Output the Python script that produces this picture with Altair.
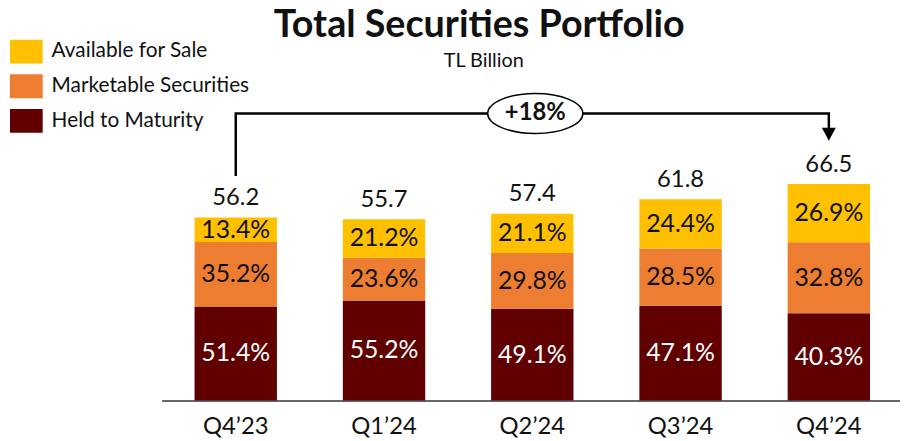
import altair as alt
import pandas as pd

quarters = ["Q4’23", "Q1’24", "Q2’24", "Q3’24", "Q4’24"]
totals = [56.2, 55.7, 57.4, 61.8, 66.5]
afs_pct = [13.4, 21.2, 21.1, 24.4, 26.9]
ms_pct = [35.2, 23.6, 29.8, 28.5, 32.8]
htm_pct = [51.4, 55.2, 49.1, 47.1, 40.3]
series = ["Available for Sale", "Marketable Securities", "Held to Maturity"]
colors = ["#FFC000", "#ED7D31", "#600000"]
title_text = "Total Securities Portfolio"
subtitle_text = "TL Billion"
growth_label = "+18%"
growth_from, growth_to = "Q4’23", "Q4’24"

FONT = "Lato"

# ---- build tables from the lists ----
rows = []
for i, q in enumerate(quarters):
    base = 0.0
    for name, pct in (("Held to Maturity", htm_pct[i]),
                      ("Marketable Securities", ms_pct[i]),
                      ("Available for Sale", afs_pct[i])):
        val = totals[i] * pct / 100.0
        rows.append({"quarter": q, "series": name, "y0": base, "y1": base + val,
                     "mid": base + val / 2, "label": f"{pct:.1f}%"})
        base += val
seg = pd.DataFrame(rows)
tot = pd.DataFrame({"quarter": quarters, "total": totals,
                    "label": [f"{t:.1f}" for t in totals]})

# bracket annotation (in data units of the y scale)
bracket = pd.DataFrame({
    "seq": [0, 1, 2, 3],
    "quarter": [growth_from, growth_from, growth_to, growth_to],
    "v": [69.4, 88.2, 88.2, 83.6],
})
arrow = pd.DataFrame({"quarter": [growth_to], "v": [81.8]})
badge = pd.DataFrame({"quarter": ["Q2’24"], "v": [88.2], "label": [growth_label]})
titles = pd.DataFrame({"t": [title_text], "s": [subtitle_text]})

xscale = alt.Scale(domain=quarters, range=[155, 903], paddingInner=0.4444, paddingOuter=0.2222)
yscale = alt.Scale(domain=[0, 118.2])

X = alt.X("quarter:N", scale=xscale, sort=quarters,
          axis=alt.Axis(title=None, ticks=False, tickSize=0, labelFont=FONT, labelFontSize=24,
                        labelColor="#111111", labelBaseline="alphabetic", labelPadding=33,
                        domainColor="#333333", domainWidth=1.5, labelAngle=0, grid=False))

rect_path = "M-1,-0.727L1,-0.727L1,0.727L-1,0.727Z"

bars = alt.Chart(seg).mark_bar().encode(
    x=X,
    y=alt.Y("y0:Q", scale=yscale, axis=None),
    y2="y1:Q",
    color=alt.Color("series:N", scale=alt.Scale(domain=series, range=colors),
                    legend=alt.Legend(orient="none", legendX=2, legendY=19.5, title=None,
                                      symbolType=rect_path, symbolSize=1089, symbolStrokeWidth=0,
                                      labelFont=FONT, labelFontSize=21, labelColor="#111111",
                                      labelLimit=0, labelOffset=9, rowPadding=6, padding=0)),
)

pct_text = alt.Chart(seg).mark_text(font=FONT, fontSize=25, baseline="middle").encode(
    x=alt.X("quarter:N", scale=xscale, sort=quarters),
    y=alt.Y("mid:Q", scale=yscale),
    text="label:N",
    color=alt.condition(alt.datum.series == "Held to Maturity", alt.value("white"), alt.value("#111111")),
)

tot_text = alt.Chart(tot).mark_text(font=FONT, fontSize=24, baseline="alphabetic", dy=-12.5,
                                    color="#111111").encode(
    x=alt.X("quarter:N", scale=xscale, sort=quarters),
    y=alt.Y("total:Q", scale=yscale),
    text="label:N",
)

line = alt.Chart(bracket).mark_line(color="black", strokeWidth=2.5, strokeCap="square").encode(
    x=alt.X("quarter:N", scale=xscale, sort=quarters),
    y=alt.Y("v:Q", scale=yscale),
    order="seq:Q",
)

arrow_head = alt.Chart(arrow).mark_point(shape="M-1,-0.93L1,-0.93L0,0.93Z", size=196,
                                         filled=True, color="black", opacity=1).encode(
    x=alt.X("quarter:N", scale=xscale, sort=quarters),
    y=alt.Y("v:Q", scale=yscale),
)

ellipse = alt.Chart(badge).mark_point(
    shape="M-1,0A1,0.42 0 1,1 1,0A1,0.42 0 1,1 -1,0Z", size=9216,
    filled=True, fill="white", stroke="black", strokeWidth=1.5, opacity=1, xOffset=3,
).encode(
    x=alt.X("quarter:N", scale=xscale, sort=quarters),
    y=alt.Y("v:Q", scale=yscale),
)

badge_text = alt.Chart(badge).mark_text(font=FONT, fontSize=24, fontWeight="bold",
                                        baseline="middle", dx=3, color="#111111").encode(
    x=alt.X("quarter:N", scale=xscale, sort=quarters),
    y=alt.Y("v:Q", scale=yscale),
    text="label:N",
)

title_mark = alt.Chart(titles).mark_text(font=FONT, fontSize=38, fontWeight="bold",
                                         baseline="alphabetic", color="#111111").encode(
    x=alt.value(475.5), y=alt.value(21), text="t:N")
sub_mark = alt.Chart(titles).mark_text(font=FONT, fontSize=20, baseline="alphabetic",
                                       color="#111111").encode(
    x=alt.value(480), y=alt.value(52), text="s:N")

chart = alt.layer(bars, pct_text, tot_text, line, arrow_head, ellipse, badge_text,
                  title_mark, sub_mark).properties(
    width=900, height=388,
    autosize=alt.AutoSizeParams(type="none"),
    padding={"left": 0, "top": 6, "right": 0, "bottom": 39},
).configure_view(stroke=None)

chart.save("out.html", embed_options={"renderer": "svg", "actions": False})
